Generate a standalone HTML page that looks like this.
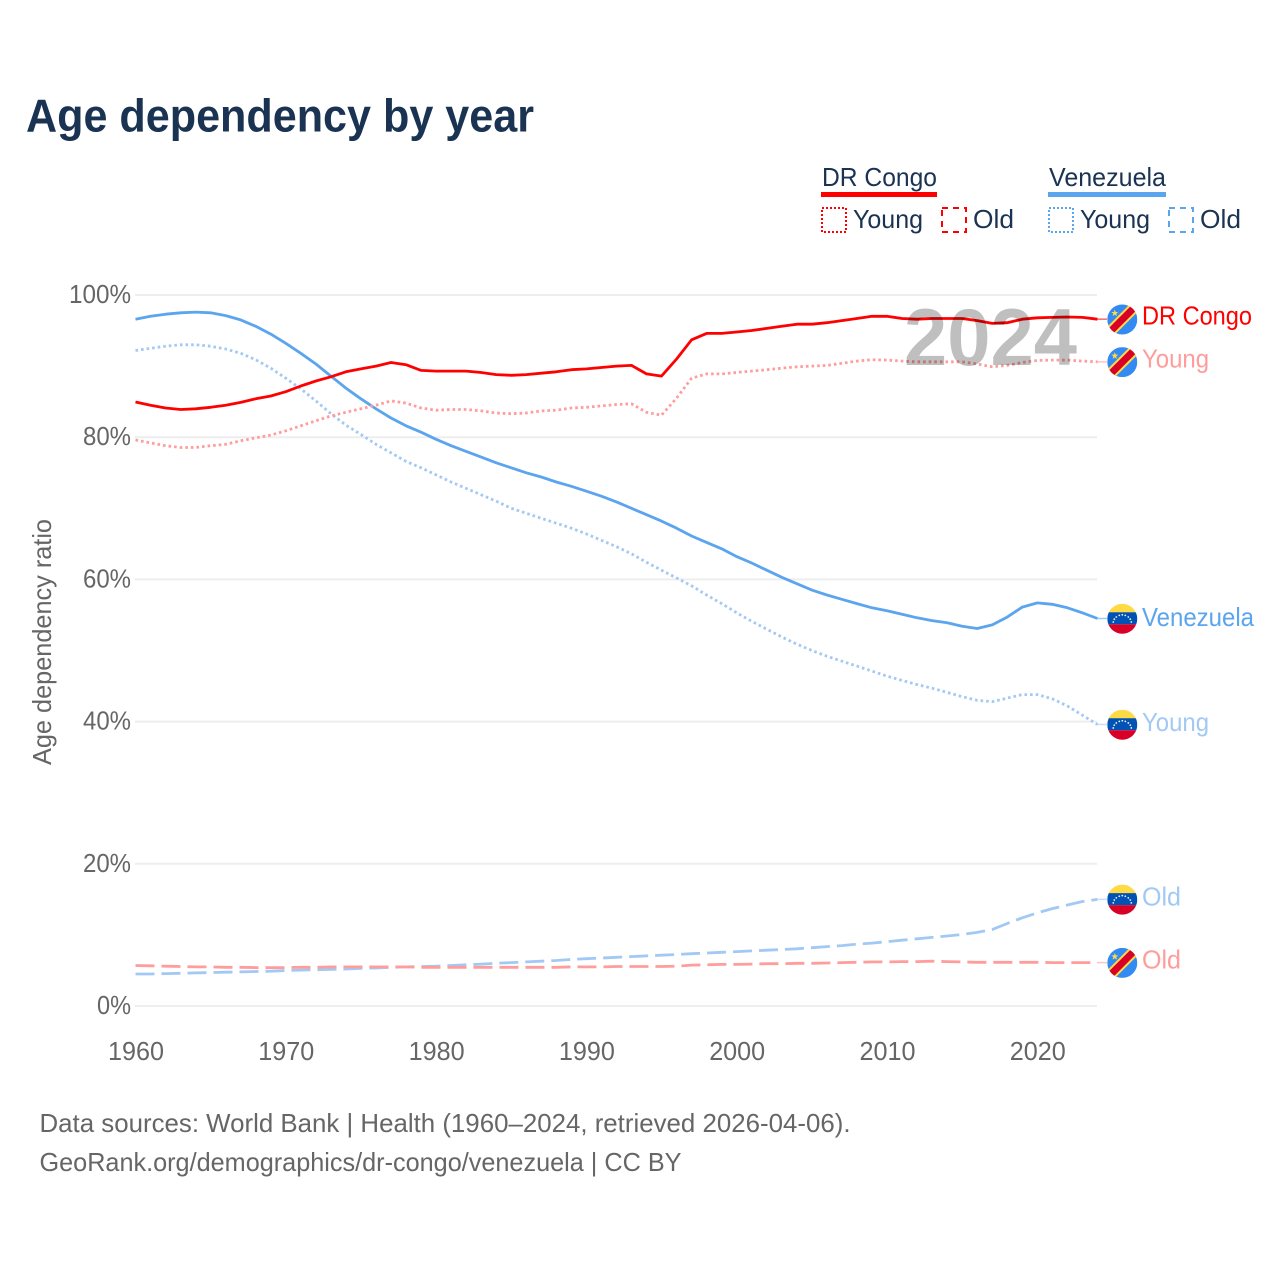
<!DOCTYPE html>
<html lang="en">
<head>
<meta charset="utf-8">
<title>Age dependency by year</title>
<style>
html,body{margin:0;padding:0;background:#fff;width:1280px;height:1280px;overflow:hidden}
svg{display:block}
text{font-family:"Liberation Sans",sans-serif}
</style>
</head>
<body>
<svg id="chart" xmlns="http://www.w3.org/2000/svg" width="1280" height="1280" viewBox="0 0 1280 1280">
  <defs>
    <clipPath id="flag-clip"><circle cx="0" cy="0" r="15"/></clipPath>
    <g id="flag-cd" clip-path="url(#flag-clip)">
      <rect x="-15" y="-15" width="30" height="30" fill="#338af3"/>
      <line x1="-16" y1="16" x2="16" y2="-16" stroke="#ffda44" stroke-width="11"/>
      <line x1="-16" y1="16" x2="16" y2="-16" stroke="#d80027" stroke-width="7"/>
      <polygon points="-7.5,-10 -6.6,-7.5 -4,-7.5 -6,-5.9 -5.3,-3.3 -7.5,-4.8 -9.7,-3.3 -9,-5.9 -11,-7.5 -8.4,-7.5" fill="#ffda44"/>
    </g>
    <g id="flag-ve" clip-path="url(#flag-clip)">
      <rect x="-15" y="-15" width="30" height="9" fill="#ffda44"/>
      <rect x="-15" y="-6.5" width="30" height="12" fill="#0052b4"/>
      <rect x="-15" y="5.5" width="30" height="10" fill="#d80027"/>
      <g fill="#f0f0f0">
        <circle cx="-9" cy="3.2" r=".9"/><circle cx="-8" cy="0.4" r=".9"/><circle cx="-6" cy="-1.8" r=".9"/>
        <circle cx="-3" cy="-3.4" r=".9"/><circle cx="0" cy="-4" r=".9"/><circle cx="3" cy="-3.4" r=".9"/>
        <circle cx="6" cy="-1.8" r=".9"/><circle cx="8" cy="0.4" r=".9"/><circle cx="9" cy="3.2" r=".9"/>
      </g>
    </g>
  </defs>

  <text x="26" y="131.5" font-size="46" font-weight="700" fill="#1a3352" textLength="508" lengthAdjust="spacingAndGlyphs">Age dependency by year</text>

  <g font-size="26" fill="#1a3352">
    <text x="822" y="186" textLength="115" lengthAdjust="spacingAndGlyphs">DR Congo</text>
    <rect x="821" y="192" width="116" height="5" fill="#ff0000"/>
    <rect x="822" y="208" width="24" height="24" fill="none" stroke="#ff0000" stroke-width="2" stroke-dasharray="2 2"/>
    <text x="853" y="228" textLength="70" lengthAdjust="spacingAndGlyphs">Young</text>
    <rect x="942" y="208" width="24" height="24" fill="none" stroke="#ff0000" stroke-width="2" stroke-dasharray="6 5"/>
    <text x="973" y="228" textLength="41" lengthAdjust="spacingAndGlyphs">Old</text>

    <text x="1049" y="186" textLength="117" lengthAdjust="spacingAndGlyphs">Venezuela</text>
    <rect x="1048" y="192" width="118" height="5" fill="#5ba4ee"/>
    <rect x="1049" y="208" width="24" height="24" fill="none" stroke="#5ba4ee" stroke-width="2" stroke-dasharray="2 2"/>
    <text x="1080" y="228" textLength="70" lengthAdjust="spacingAndGlyphs">Young</text>
    <rect x="1169" y="208" width="24" height="24" fill="none" stroke="#5ba4ee" stroke-width="2" stroke-dasharray="6 5"/>
    <text x="1200" y="228" textLength="41" lengthAdjust="spacingAndGlyphs">Old</text>
  </g>

  <g id="grid"></g>
  <g id="y-ticks" font-size="26" fill="#666"></g>
  <g id="x-ticks" font-size="26" fill="#666"></g>

  <text transform="translate(51,765) rotate(-90)" font-size="26" fill="#666" textLength="246" lengthAdjust="spacingAndGlyphs">Age dependency ratio</text>

  <g id="series"></g>

  <text x="904" y="365" font-size="81" font-weight="700" fill="#000" fill-opacity=".25" textLength="173" lengthAdjust="spacingAndGlyphs">2024</text>

  <g id="end-labels" font-size="26"></g>

  <text x="39.5" y="1132" font-size="26" fill="#666" textLength="811" lengthAdjust="spacingAndGlyphs">Data sources: World Bank | Health (1960–2024, retrieved 2026-04-06).</text>
  <text x="39.5" y="1171" font-size="26" fill="#666" textLength="642" lengthAdjust="spacingAndGlyphs">GeoRank.org/demographics/dr-congo/venezuela | CC BY</text>
</svg>

<script>
const startYear = 1960;
const yTickValues = [0, 20, 40, 60, 80, 100];
const xTickValues = [1960, 1970, 1980, 1990, 2000, 2010, 2020];

const drCongoTotal = [84.95,84.5,84.1,83.9,84.0,84.2,84.5,84.9,85.4,85.8,86.4,87.2,87.9,88.5,89.2,89.6,90.0,90.5,90.2,89.4,89.3,89.3,89.3,89.1,88.8,88.7,88.8,89.0,89.2,89.5,89.6,89.8,90.0,90.1,88.9,88.6,91.0,93.7,94.6,94.6,94.8,95.0,95.3,95.6,95.9,95.9,96.1,96.4,96.7,97.0,97.0,96.7,96.6,96.7,96.7,96.7,96.4,96.0,96.1,96.6,96.8,96.85,96.9,96.85,96.6];
const drCongoYoung = [79.6,79.2,78.8,78.55,78.55,78.8,79.0,79.5,79.9,80.3,80.9,81.6,82.3,83.0,83.5,84.0,84.5,85.1,84.8,84.1,83.8,83.9,83.9,83.7,83.4,83.3,83.4,83.7,83.8,84.1,84.2,84.4,84.6,84.7,83.5,83.1,85.5,88.3,88.9,88.9,89.1,89.3,89.5,89.7,89.9,90.0,90.1,90.4,90.7,90.9,90.85,90.7,90.6,90.6,90.6,90.6,90.3,89.9,90.1,90.5,90.8,90.85,90.85,90.7,90.6];
const drCongoOld = [5.7,5.65,5.6,5.55,5.5,5.5,5.45,5.45,5.4,5.4,5.4,5.45,5.45,5.5,5.5,5.5,5.5,5.5,5.5,5.45,5.45,5.45,5.45,5.45,5.45,5.45,5.45,5.45,5.45,5.5,5.5,5.5,5.55,5.55,5.55,5.55,5.6,5.75,5.8,5.85,5.85,5.9,5.95,5.95,6.0,6.0,6.05,6.1,6.15,6.2,6.2,6.25,6.25,6.3,6.25,6.2,6.15,6.15,6.15,6.15,6.15,6.1,6.1,6.1,6.1];
const venezuelaTotal = [96.6,97.0,97.3,97.5,97.6,97.5,97.1,96.5,95.6,94.5,93.2,91.8,90.3,88.6,86.9,85.4,84.0,82.7,81.6,80.7,79.7,78.8,78.0,77.2,76.4,75.7,75.0,74.4,73.7,73.1,72.4,71.7,70.9,70.0,69.1,68.2,67.2,66.1,65.2,64.3,63.2,62.3,61.3,60.3,59.4,58.5,57.8,57.2,56.6,56.0,55.6,55.1,54.6,54.2,53.9,53.4,53.1,53.6,54.7,56.1,56.7,56.5,56.0,55.3,54.5];
const venezuelaYoung = [92.2,92.5,92.8,93.0,93.0,92.8,92.4,91.8,90.9,89.7,88.3,86.8,85.1,83.3,81.7,80.4,79.0,77.8,76.6,75.7,74.7,73.7,72.8,71.9,71.0,70.0,69.3,68.6,67.9,67.2,66.4,65.5,64.6,63.6,62.4,61.3,60.2,59.1,57.8,56.6,55.3,54.1,53.0,51.9,50.9,50.0,49.2,48.5,47.8,47.1,46.4,45.8,45.2,44.7,44.1,43.5,43.0,42.8,43.3,43.8,43.8,43.2,42.2,40.9,39.6];
const venezuelaOld = [4.5,4.5,4.55,4.6,4.65,4.7,4.75,4.8,4.85,4.9,5.0,5.05,5.1,5.15,5.2,5.3,5.35,5.45,5.5,5.55,5.6,5.7,5.8,5.9,6.0,6.1,6.2,6.3,6.4,6.55,6.65,6.75,6.85,6.95,7.05,7.15,7.25,7.35,7.45,7.55,7.65,7.75,7.85,7.95,8.05,8.2,8.35,8.5,8.7,8.85,9.05,9.25,9.45,9.65,9.85,10.05,10.35,10.75,11.6,12.4,13.1,13.7,14.2,14.7,15.0];

const seriesNames = ['venezuela-total','venezuela-young','venezuela-old','dr-congo-old','dr-congo-young','dr-congo-total'];
const seriesLabels = ['Venezuela','Young','Old','Old','Young','DR Congo'];

const svgNS = 'http://www.w3.org/2000/svg';
function xScale(year){ return 135.5 + (year - 1960) * 15.03; }
function yScale(v){ return 1006 - v * 7.11; }

const allSeries = [venezuelaTotal, venezuelaYoung, venezuelaOld, drCongoOld, drCongoYoung, drCongoTotal];
const seriesStyles = [
  {color:'#5ba4ee', dash:'', w:2.8, flag:'flag-ve', lw:112, dy:7.5},
  {color:'#a2c9f4', dash:'2.6 3', w:2.8, flag:'flag-ve', lw:67, dy:6.5},
  {color:'#a2c9f4', dash:'19 7', w:2.8, flag:'flag-ve', lw:39, dy:6},
  {color:'#ff9c9c', dash:'19 7', w:2.8, flag:'flag-cd', lw:39, dy:6},
  {color:'#ff9c9c', dash:'2.6 3', w:2.8, flag:'flag-cd', lw:67, dy:5.5},
  {color:'#ff0000', dash:'', w:2.8, flag:'flag-cd', lw:110, dy:5.5}
];

const grid = document.getElementById('grid');
const yTicks = document.getElementById('y-ticks');
yTickValues.forEach(function(v){
  const line = document.createElementNS(svgNS,'line');
  
  
  line.setAttribute('x1', 135);
  line.setAttribute('x2', 1097);
  line.setAttribute('y1', yScale(v));
  line.setAttribute('y2', yScale(v));
  line.setAttribute('stroke', '#eeeeee');
  line.setAttribute('stroke-width', '2');
  grid.appendChild(line);
  const label = String(v) + '%';
  const t = document.createElementNS(svgNS,'text');
  
  
  const w = v === 100 ? 62 : (v === 0 ? 34 : 48);
  t.setAttribute('x', 131 - w);
  t.setAttribute('y', yScale(v) + 8);
  t.setAttribute('textLength', w);
  t.setAttribute('lengthAdjust', 'spacingAndGlyphs');
  t.textContent = label;
  yTicks.appendChild(t);
});

const xTicks = document.getElementById('x-ticks');
xTickValues.forEach(function(y){
  const t = document.createElementNS(svgNS,'text');
  
  
  t.setAttribute('x', xScale(y) - 27.5);
  t.setAttribute('y', 1060);
  t.setAttribute('textLength', 56);
  t.setAttribute('lengthAdjust', 'spacingAndGlyphs');
  t.textContent = String(y);
  xTicks.appendChild(t);
});

const seriesGroup = document.getElementById('series');
const labelsGroup = document.getElementById('end-labels');
allSeries.forEach(function(vals, i){
  const s = seriesStyles[i];
  const pts = vals.map(function(v, k){ return xScale(startYear + k).toFixed(1) + ',' + yScale(v).toFixed(1); }).join(' ');
  const pl = document.createElementNS(svgNS,'polyline');
  
  
  pl.setAttribute('points', pts);
  pl.setAttribute('fill', 'none');
  pl.setAttribute('stroke', s.color);
  pl.setAttribute('stroke-width', s.w);
  pl.setAttribute('stroke-linejoin', 'round');
  if (s.dash) pl.setAttribute('stroke-dasharray', s.dash);
  seriesGroup.appendChild(pl);

  const lastY = yScale(vals[vals.length - 1]);
  const conn = document.createElementNS(svgNS,'line');
  
  
  conn.setAttribute('x1', 1097);
  conn.setAttribute('x2', 1107);
  conn.setAttribute('y1', lastY);
  conn.setAttribute('y2', lastY);
  conn.setAttribute('stroke', s.color);
  conn.setAttribute('stroke-opacity', '.6');
  conn.setAttribute('stroke-width', '1.5');
  labelsGroup.appendChild(conn);

  const flag = document.createElementNS(svgNS,'use');
  
  
  flag.setAttribute('href', '#' + s.flag);
  flag.setAttribute('transform', 'translate(1122.3,' + (lastY + 0.3) + ')');
  labelsGroup.appendChild(flag);

  const t = document.createElementNS(svgNS,'text');
  
  
  t.setAttribute('x', 1142);
  t.setAttribute('y', lastY + s.dy);
  t.setAttribute('fill', s.color);
  t.setAttribute('textLength', s.lw);
  t.setAttribute('lengthAdjust', 'spacingAndGlyphs');
  t.textContent = seriesLabels[i];
  labelsGroup.appendChild(t);
});
</script>
</body>
</html>
